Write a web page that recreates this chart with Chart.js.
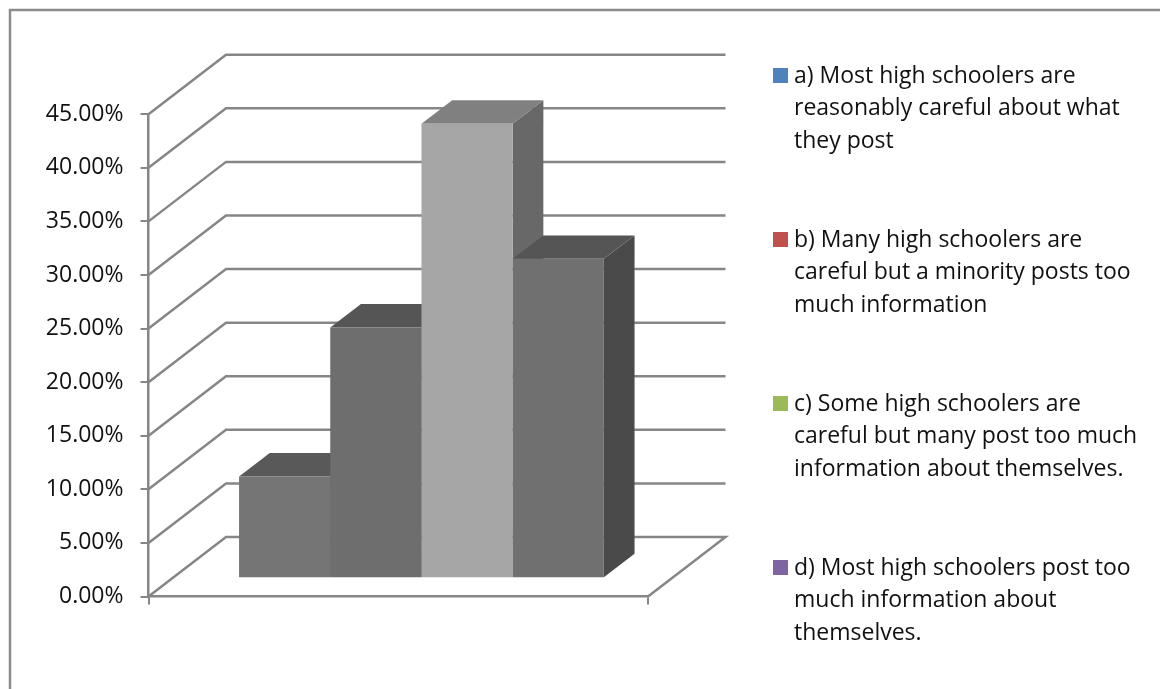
<!DOCTYPE html>
<html>
<head>
<meta charset="utf-8">
<style>html,body{margin:0;padding:0;background:#fff}canvas{display:block}</style>
<script src="https://cdn.jsdelivr.net/npm/chart.js@4"></script>
</head>
<body>
<canvas id="c" width="1160" height="689"></canvas>
<script>
const categories = [''];
const seriesValues = [9.5, 23.4, 42.4, 29.8];
const seriesLegend = [
  ['a) Most high schoolers are', 'reasonably careful about what', 'they post'],
  ['b) Many high schoolers are', 'careful but a minority posts too', 'much information'],
  ['c) Some high schoolers are', 'careful but many post too much', 'information about themselves.'],
  ['d) Most high schoolers post too', 'much information about', 'themselves.']
];
const legendColors = ['#4f81bd', '#c0504d', '#9bbb59', '#8064a2'];
const frontColors = ['#757575', '#6e6e6e', '#a6a6a6', '#707070'];
const topColors = ['#595959', '#555555', '#808080', '#555555'];
const sideColors = ['#4a4a4a', '#4a4a4a', '#686868', '#4a4a4a'];
const legendBaselines = [83, 247, 411, 575];

const FONT = '"Open Sans"';
const GRID = '#868686';
const WALL = { dx: 77.5, dy: -59.5 };
const BAR_SHIFT = { dx: 23.2, dy: -18.3 };
const BAR_DEPTH = { dx: 30.7, dy: -23.4 };

const scene = {
  id: 'scene',
  beforeDraw(chart) {
    const c = chart.ctx;
    c.save();
    c.strokeStyle = '#8c8c8c';
    c.lineWidth = 2.5;
    c.beginPath();
    c.moveTo(10, 689); c.lineTo(10, 10); c.lineTo(1160, 10);
    c.stroke();
    c.restore();
  },
  beforeDatasetsDraw(chart) {
    const c = chart.ctx, y = chart.scales.y, a = chart.chartArea;
    c.save();
    c.strokeStyle = GRID;
    c.lineWidth = 2.5;
    c.lineJoin = 'miter';
    y.ticks.forEach(t => {
      const py = y.getPixelForValue(t.value);
      c.beginPath();
      c.moveTo(a.left, py);
      c.lineTo(a.left + WALL.dx, py + WALL.dy);
      c.lineTo(a.right + WALL.dx, py + WALL.dy);
      if (t.value === 0) c.lineTo(a.right, py);
      c.stroke();
    });
    chart.data.datasets.forEach((d, i) => {
      const el = chart.getDatasetMeta(i).data[0];
      const p = el.getProps(['x', 'y', 'base', 'width'], true);
      const l = p.x - p.width / 2 + BAR_SHIFT.dx, r = p.x + p.width / 2 + BAR_SHIFT.dx;
      const t = p.y + BAR_SHIFT.dy, b = p.base + BAR_SHIFT.dy;
      c.fillStyle = sideColors[i];
      c.beginPath();
      c.moveTo(r, t); c.lineTo(r + BAR_DEPTH.dx, t + BAR_DEPTH.dy);
      c.lineTo(r + BAR_DEPTH.dx, b + BAR_DEPTH.dy); c.lineTo(r, b);
      c.closePath(); c.fill();
      c.fillStyle = topColors[i];
      c.beginPath();
      c.moveTo(l, t); c.lineTo(l + BAR_DEPTH.dx, t + BAR_DEPTH.dy);
      c.lineTo(r + BAR_DEPTH.dx, t + BAR_DEPTH.dy); c.lineTo(r, t);
      c.closePath(); c.fill();
    });
    c.restore();
  },
  beforeDatasetDraw(chart) {
    chart.ctx.save();
    chart.ctx.translate(BAR_SHIFT.dx, BAR_SHIFT.dy);
  },
  afterDatasetDraw(chart) {
    chart.ctx.restore();
  },
  afterDraw(chart) {
    const c = chart.ctx;
    c.save();
    c.textAlign = 'left';
    c.textBaseline = 'alphabetic';
    c.font = '23px ' + FONT;
    seriesLegend.forEach((lines, i) => {
      const base = legendBaselines[i];
      c.fillStyle = legendColors[i];
      c.fillRect(773, base - 15, 15, 15);
      c.fillStyle = '#111111';
      lines.forEach((ln, k) => c.fillText(ln, 794, base + k * 32.4));
    });
    c.restore();
  }
};

new Chart(document.getElementById('c'), {
  type: 'bar',
  data: {
    labels: categories,
    datasets: seriesValues.map((v, i) => ({
      label: seriesLegend[i].join(' '),
      data: [v],
      backgroundColor: frontColors[i],
      borderWidth: 0,
      categoryPercentage: 0.7303,
      barPercentage: 1
    }))
  },
  plugins: [scene],
  options: {
    responsive: false,
    animation: false,
    devicePixelRatio: 1,
    layout: { padding: { left: 0, top: 114.2, right: 512, bottom: 92.5 } },
    plugins: { legend: { display: false }, title: { display: false }, tooltip: { enabled: false } },
    scales: {
      x: {
        grid: { drawOnChartArea: false, drawTicks: true, tickLength: 8, color: GRID, lineWidth: 2 },
        border: { color: GRID, width: 2.5 },
        ticks: { display: false },
        afterFit(s) { s.height = 0; }
      },
      y: {
        min: 0, max: 45,
        grid: { drawOnChartArea: false, drawTicks: true, tickLength: 8, color: GRID, lineWidth: 2 },
        border: { color: GRID, width: 2.5 },
        ticks: {
          stepSize: 5,
          padding: 17,
          color: '#111111',
          font: { family: 'Open Sans', size: 23 },
          callback: v => v.toFixed(2) + '%'
        },
        afterFit(s) { s.width = 148.5; }
      }
    }
  }
});
</script>
</body>
</html>
